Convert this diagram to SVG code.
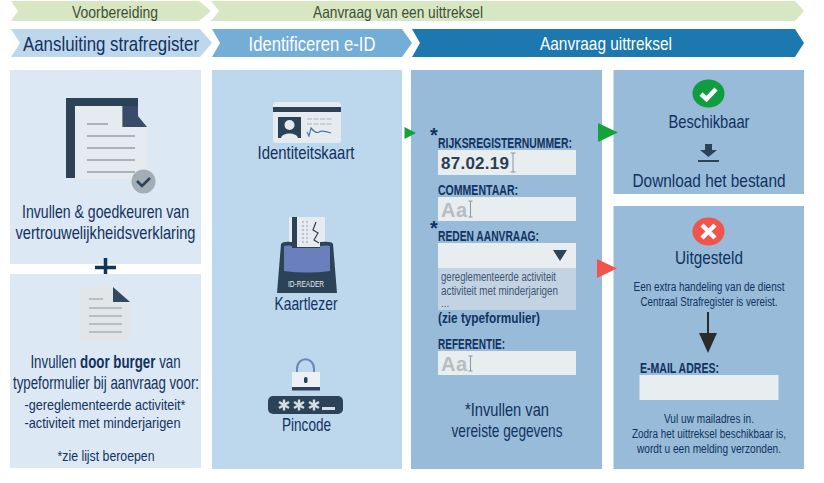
<svg xmlns="http://www.w3.org/2000/svg" width="824" height="483" viewBox="0 0 824 483">
<style>
text{font-family:"Liberation Sans Narrow","Liberation Sans",sans-serif;fill:#12325f;text-anchor:middle}
.h{font-size:21px}
.l{font-size:18.5px}
.m{font-size:15px}
.s{font-size:12px}
.f{font-size:14.5px;font-weight:bold;text-anchor:start}
.g{font-size:12.5px;text-anchor:start;fill:#3f5570}
.st{font-size:20px;font-weight:bold}
.aa{font-family:"Liberation Sans",sans-serif;font-size:20px;font-weight:bold;fill:#b7bcc0;text-anchor:start}
.in{fill:#e8edf0}
.ln{stroke:#a9b2b9;stroke-width:2}
.cur{stroke:#8a95a6;stroke-width:1;fill:none}
</style>
<g id="fase-voorbereiding"><path d="M11 1H199L211 11 199 21H11L18 11Z" fill="#d7e7c4"/><text x="115" y="18" font-size="16.5" style="fill:#3f4f35" textLength="86" lengthAdjust="spacingAndGlyphs">Voorbereiding</text></g>
<g id="fase-aanvraag"><path d="M211 1H795L804 11 795 21H211L219 11Z" fill="#d7e7c4"/><text x="398" y="18" font-size="16.5" style="fill:#3f4f35" textLength="170" lengthAdjust="spacingAndGlyphs">Aanvraag van een uittreksel</text></g>
<g id="stap-aansluiting"><path d="M11 29H200L212 43 200 57H11L20 43Z" fill="#bed7ec"/><text x="111" y="51" class="h" textLength="176" lengthAdjust="spacingAndGlyphs">Aansluiting strafregister</text></g>
<g id="stap-identificeren"><path d="M212 29H402L412 43 402 57H212L220 43Z" fill="#74add6"/><text x="312" y="51" class="h" style="fill:#fff" textLength="127" lengthAdjust="spacingAndGlyphs">Identificeren e-ID</text></g>
<g id="stap-aanvraag"><path d="M412 29H795L804 43 795 57H412L420 43Z" fill="#1c78af"/><text x="606" y="50" font-size="18.5" style="fill:#fff" textLength="132" lengthAdjust="spacingAndGlyphs">Aanvraag uittreksel</text></g>

<g id="paneel-verklaring">
<rect x="10" y="70" width="191" height="194" fill="#dce8f3"/>
<path d="M66 98H138V127H122.500V106H75V178H66Z" fill="#2c4257"/>
<path d="M75 106H122.500V127H147V179H75Z" fill="#e6ebef"/>
<path d="M122.500 106H138V116L147 127H122.500Z" fill="#3a4a6b"/>
<path class="ln" d="M87 124H108M87 136H135M87 148H135M87 160H135M87 172H135"/>
<circle cx="143.500" cy="181.500" r="12" fill="#a2adb6"/>
<path d="M137 181L142 186 150 178" fill="none" stroke="#2c4257" stroke-width="2.500"/>
<text x="105.500" y="218" class="l" textLength="167" lengthAdjust="spacingAndGlyphs">Invullen &amp; goedkeuren van</text>
<text x="105.500" y="239" class="l" textLength="180" lengthAdjust="spacingAndGlyphs">vertrouwelijkheidsverklaring</text>
</g>
<g id="plus"><path d="M95 267.500H116M105.500 258V277" stroke="#12325f" stroke-width="3.500" fill="none"/></g>
<g id="paneel-typeformulier">
<rect x="10" y="274" width="191" height="194" fill="#dce8f3"/>
<path d="M81 287H113L130 302V341H81Z" fill="#e3e6e9"/>
<path d="M113 287L130 302H113Z" fill="#33475f"/>
<path class="ln" d="M89 299H103M89 308H122M89 316H122M89 324H122M89 332H122" style="stroke-width:1.500"/>
<text transform="translate(105.500 368) scale(.72 1)" class="l">Invullen <tspan font-weight="bold">door burger</tspan> van</text>
<text x="106" y="389" class="l" textLength="186" lengthAdjust="spacingAndGlyphs">typeformulier bij aanvraag voor:</text>
<text x="105" y="410" class="m" textLength="161" lengthAdjust="spacingAndGlyphs">-gereglementeerde activiteit*</text>
<text x="102.500" y="428" class="m" textLength="156" lengthAdjust="spacingAndGlyphs">-activiteit met minderjarigen</text>
<text x="106" y="461" class="m" textLength="97" lengthAdjust="spacingAndGlyphs">*zie lijst beroepen</text>
</g>

<g id="paneel-eid">
<rect x="212" y="70" width="190" height="399" fill="#bdd7ec"/>
<g id="identiteitskaart">
<rect x="273" y="102" width="68" height="41" rx="3" fill="#e6ebef"/>
<rect x="273" y="107" width="68" height="5" fill="#2c4257"/>
<rect x="278" y="117" width="23" height="21" fill="#2c4257"/>
<circle cx="289.500" cy="125" r="5" fill="#e6ebef"/><path d="M281 138C282 132 297 132 298 138Z" fill="#e6ebef"/>
<path d="M307 119H333M307 124H333" stroke="#a9b4bd" stroke-width="1" stroke-dasharray="5 1.500"/>
<path d="M307 132L309 136 311 128Q316 134 319 132T331 133" stroke="#4a76a6" stroke-width="1.200" fill="none"/>
<text x="306" y="159" class="l" textLength="97" lengthAdjust="spacingAndGlyphs">Identiteitskaart</text>
</g>
<g id="kaartlezer">
<rect x="289" y="217" width="36" height="30" rx="1" fill="#e6ebef"/>
<rect x="292" y="217" width="5" height="30" fill="#2c4257"/>
<path d="M303 221V243M307 221V243" stroke="#8aa0b8" stroke-width="1" stroke-dasharray="2 2" fill="none"/>
<path d="M316 222L313 230 318 233 314 240 319 243" stroke="#2c4257" stroke-width="1.200" fill="none"/>
<path d="M281 244Q283 241 292 242V247H320V242Q332 241 333 244L337 293H277Z" fill="#2c4257"/>
<path d="M284 246Q290 245 292 246V248H320V246Q328 245 330 246V271Q307 274 284 271Z" fill="#6a80bd"/>
<text x="306" y="287" font-size="9.500" style="fill:#e6ebef" textLength="36" lengthAdjust="spacingAndGlyphs">ID-READER</text>
<text x="306" y="310" class="l" textLength="63" lengthAdjust="spacingAndGlyphs">Kaartlezer</text>
</g>
<g id="pincode">
<path d="M297 373V369C297 356 314 356 314 369V373" fill="none" stroke="#6a88b0" stroke-width="2"/>
<rect x="292" y="372" width="28" height="16" fill="#eef1f3"/>
<rect x="292" y="387" width="28" height="3.500" fill="#2c4257"/>
<rect x="304" y="377" width="3.500" height="6" rx="1.500" fill="#2c4257"/>
<rect x="268" y="396" width="75" height="18" rx="5" fill="#2c4257"/>
<g stroke="#d5dde5" stroke-width="2.400" fill="none">
<path d="M284 399.500V410.500M279 402L289 408M289 402L279 408"/>
<path d="M299 399.500V410.500M294 402L304 408M304 402L294 408"/>
<path d="M314 399.500V410.500M309 402L319 408M319 402L309 408"/>
</g>
<rect x="322" y="407" width="13" height="3" fill="#d5dde5"/>
<text x="306.500" y="431" class="l" textLength="49" lengthAdjust="spacingAndGlyphs">Pincode</text>
</g>
</g>

<g id="paneel-gegevens">
<rect x="411" y="70" width="191" height="399" fill="#97bbd8"/>
<text x="434" y="142" class="st">*</text>
<text x="438" y="148" class="f" textLength="134" lengthAdjust="spacingAndGlyphs">RIJKSREGISTERNUMMER:</text>
<rect x="438" y="150" width="138" height="25" class="in"/>
<text x="441" y="169" style="font-family:'Liberation Sans',sans-serif;font-size:17px;font-weight:bold;fill:#2c3e50;text-anchor:start" textLength="68">87.02.19</text>
<path class="cur" d="M513 153V172M510.500 153H515.500M510.500 172H515.500"/>
<text x="438" y="195" class="f" textLength="80" lengthAdjust="spacingAndGlyphs">COMMENTAAR:</text>
<rect x="438" y="197" width="138" height="24" class="in"/>
<text x="441" y="217" class="aa" textLength="26">Aa</text>
<path class="cur" d="M470.500 201V217M468.500 201H472.500M468.500 217H472.500"/>
<text x="434" y="235" class="st">*</text>
<text x="438" y="241" class="f" textLength="101" lengthAdjust="spacingAndGlyphs">REDEN AANVRAAG:</text>
<rect x="438" y="243" width="138" height="25" class="in"/>
<path d="M553 250H567L560 261Z" fill="#2c4257"/>
<rect x="438" y="268" width="138" height="42" fill="#c4d3e3"/>
<text x="441" y="281" class="g" textLength="115" lengthAdjust="spacingAndGlyphs">gereglementeerde activiteit</text>
<text x="441" y="295" class="g" textLength="117" lengthAdjust="spacingAndGlyphs">activiteit met minderjarigen</text>
<text x="441" y="307" class="g" style="font-size:10px">...</text>
<text x="438" y="323" class="f" textLength="102" lengthAdjust="spacingAndGlyphs">(zie typeformulier)</text>
<text x="438" y="349" class="f" textLength="67" lengthAdjust="spacingAndGlyphs">REFERENTIE:</text>
<rect x="438" y="351" width="138" height="24" class="in"/>
<text x="441" y="371" class="aa" textLength="26">Aa</text>
<path class="cur" d="M470.500 356V371M468.500 356H472.500M468.500 371H472.500"/>
<text x="507" y="416" class="l" textLength="84" lengthAdjust="spacingAndGlyphs">*Invullen van</text>
<text x="507" y="437" class="l" textLength="111" lengthAdjust="spacingAndGlyphs">vereiste gegevens</text>
</g>

<g id="paneel-beschikbaar">
<rect x="613.500" y="70" width="190.500" height="124" fill="#97bbd8"/>
<ellipse cx="708.500" cy="93.500" rx="16" ry="14" fill="#0f9d3f"/>
<path d="M701 94L706.500 99 716 89" fill="none" stroke="#fff" stroke-width="4.500"/>
<text x="709" y="128" class="l" textLength="81" lengthAdjust="spacingAndGlyphs">Beschikbaar</text>
<path d="M705 144H712V150H717L708.500 157 700 150H705Z" fill="#2c4257"/>
<rect x="698" y="160" width="21" height="2" fill="#2c4257"/>
<text x="709" y="187" class="l" textLength="153" lengthAdjust="spacingAndGlyphs">Download het bestand</text>
</g>

<g id="paneel-uitgesteld">
<rect x="613.500" y="206" width="190.500" height="263" fill="#97bbd8"/>
<ellipse cx="708.500" cy="231.500" rx="16" ry="14" fill="#f2544c"/>
<path d="M702 225L715 238M715 225L702 238" stroke="#fff" stroke-width="4.500" fill="none"/>
<text x="709" y="264" class="l" textLength="68" lengthAdjust="spacingAndGlyphs">Uitgesteld</text>
<text x="709" y="291" class="s" textLength="151" lengthAdjust="spacingAndGlyphs">Een extra handeling van de dienst</text>
<text x="709" y="306" class="s" textLength="137" lengthAdjust="spacingAndGlyphs">Centraal Strafregister is vereist.</text>
<text x="640" y="373" class="f" textLength="79" lengthAdjust="spacingAndGlyphs">E-MAIL ADRES:</text>
<rect x="639.500" y="375" width="139" height="25" class="in"/>
<text x="709" y="423" class="s" textLength="90" lengthAdjust="spacingAndGlyphs">Vul uw mailadres in.</text>
<text x="709" y="438" class="s" textLength="154" lengthAdjust="spacingAndGlyphs">Zodra het uittreksel beschikbaar is,</text>
<text x="709" y="453" class="s" textLength="144" lengthAdjust="spacingAndGlyphs">wordt u een melding verzonden.</text>
</g>

<g id="connectors">
<path d="M404.500 127V139L416 133Z" fill="#12a33a"/>
<path d="M598 123V142L618 132.500Z" fill="#12a33a"/>
<path d="M597 259V278L617 268.500Z" fill="#f2544c"/>
<path d="M708 312V335" stroke="#2b2b2b" stroke-width="2" fill="none"/>
<path d="M699 333H717L708 353Z" fill="#2b2b2b"/>
</g>
</svg>
